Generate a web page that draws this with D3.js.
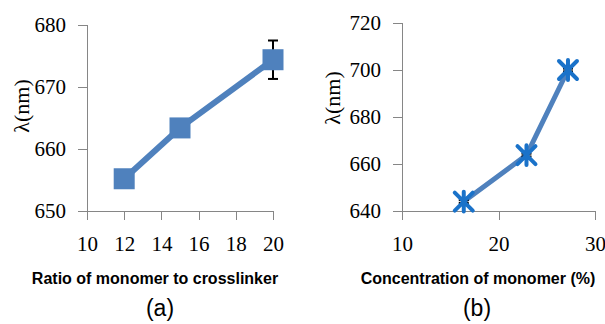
<!DOCTYPE html>
<html>
<head>
<meta charset="utf-8">
<script src="https://cdn.jsdelivr.net/npm/d3@7"></script>
<style>
  html, body { margin: 0; padding: 0; background: #fff; }
  svg { display: block; }
  .tick text { font-family: "Liberation Serif", "Times New Roman", serif; font-size: 21px; fill: #000; }
  .axis path, .axis line { stroke: #868686; stroke-width: 1; shape-rendering: crispEdges; }
  .ttl { font-family: "Liberation Sans", Arial, sans-serif; font-weight: bold; font-size: 16px; fill: #000; }
  .ylab { font-family: "Liberation Serif", "Times New Roman", serif; font-size: 22px; fill: #000; }
  .panel { font-family: "Liberation Sans", Arial, sans-serif; font-size: 23px; fill: #000; }
</style>
</head>
<body>
<script>
// Panel (a): wavelength vs. monomer:crosslinker ratio
const ratioA = [12, 15, 20];
const lambdaA = [655.2, 663.4, 674.4];
const errA = [1.0, 1.0, 3.1];
const xTicksA = [10, 12, 14, 16, 18, 20];
const yTicksA = [650, 660, 670, 680];

// Panel (b): wavelength vs. monomer concentration
const concB = [16.4, 22.9, 27.2];
const lambdaB = [644, 663.8, 700];
const errB = [0.6, 0.6, 0.6];
const xTicksB = [10, 20, 30];
const yTicksB = [640, 660, 680, 700, 720];

const W = 605, H = 324;
const svg = d3.select("body").append("svg").attr("width", W).attr("height", H);

const lineBlue = "#4f81bd";
const starBlue = "#1a72c9";

function panel(cfg) {
  const g = svg.append("g");
  const x = d3.scaleLinear().domain(cfg.xDomain).range(cfg.xRange);
  const y = d3.scaleLinear().domain(cfg.yDomain).range(cfg.yRange);
  const y0 = cfg.yRange[0];

  // y axis (line extends below the x axis by one tick length)
  const ya = g.append("g").attr("class", "axis")
    .attr("transform", `translate(${cfg.xRange[0]},0)`)
    .call(d3.axisLeft(y).tickValues(cfg.yTicks).tickFormat(d3.format("d"))
      .tickSize(9).tickSizeOuter(0).tickPadding(12));
  ya.select(".domain").remove();
  ya.append("line").attr("x1", 0).attr("x2", 0)
    .attr("y1", cfg.yRange[1]).attr("y2", y0 + 9)
    .attr("stroke", "#868686");

  g.append("g").attr("class", "axis")
    .attr("transform", `translate(0,${y0})`)
    .call(d3.axisBottom(x).tickValues(cfg.xTicks).tickFormat(d3.format("d"))
      .tickSize(9).tickSizeOuter(0).tickPadding(16));

  // connecting line
  const pts = cfg.xs.map((v, i) => [x(v), y(cfg.ys[i])]);
  g.append("path").attr("d", d3.line()(pts))
    .attr("fill", "none").attr("stroke", lineBlue)
    .attr("stroke-width", cfg.lineWidth).attr("stroke-linejoin", "round");

  // error bars
  cfg.xs.forEach((v, i) => {
    const cx = x(v), top = y(cfg.ys[i] + cfg.err[i]), bot = y(cfg.ys[i] - cfg.err[i]);
    const eb = g.append("g").attr("stroke", "#000").attr("stroke-width", 2);
    eb.append("line").attr("x1", cx).attr("x2", cx).attr("y1", top).attr("y2", bot);
    eb.append("line").attr("x1", cx - 5).attr("x2", cx + 5).attr("y1", top).attr("y2", top);
    eb.append("line").attr("x1", cx - 5).attr("x2", cx + 5).attr("y1", bot).attr("y2", bot);
  });

  // markers
  pts.forEach(([px, py]) => cfg.marker(g, px, py));

  // axis title, y label, panel letter
  g.append("text").attr("class", "ttl").attr("x", cfg.ttlX).attr("y", 284)
    .attr("text-anchor", "middle").text(cfg.title);
  g.append("text").attr("class", "ylab")
    .attr("transform", `translate(${cfg.ylabX},${cfg.ylabY}) rotate(-90)`)
    .attr("text-anchor", "middle").text("λ(nm)");
  g.append("text").attr("class", "panel").attr("x", cfg.panelX).attr("y", 316)
    .attr("text-anchor", "middle").text(cfg.panel);
}

function squareMarker(g, px, py) {
  const s = 21;
  g.append("rect").attr("x", px - s / 2).attr("y", py - s / 2)
    .attr("width", s).attr("height", s).attr("fill", lineBlue);
}

function starMarker(g, px, py) {
  const r = 9;
  const d = `M${px - r},${py - r}L${px + r},${py + r}M${px - r},${py + r}L${px + r},${py - r}` +
            `M${px},${py - r * 1.1}L${px},${py + r * 1.1}`;
  g.append("path").attr("d", d).attr("stroke", starBlue)
    .attr("stroke-width", 4).attr("stroke-linecap", "round").attr("fill", "none");
}

panel({
  xs: ratioA, ys: lambdaA, err: errA, xTicks: xTicksA, yTicks: yTicksA,
  xDomain: [10, 20], xRange: [87, 273], yDomain: [650, 680], yRange: [211, 25],
  lineWidth: 6, marker: squareMarker,
  title: "Ratio of monomer to crosslinker", ttlX: 155,
  ylabX: 29, ylabY: 106, panel: "(a)", panelX: 160
});

panel({
  xs: concB, ys: lambdaB, err: errB, xTicks: xTicksB, yTicks: yTicksB,
  xDomain: [10, 30], xRange: [402, 595], yDomain: [640, 720], yRange: [211, 23],
  lineWidth: 5, marker: starMarker,
  title: "Concentration of monomer (%)", ttlX: 478,
  ylabX: 340, ylabY: 98, panel: "(b)", panelX: 477
});
</script>
</body>
</html>
